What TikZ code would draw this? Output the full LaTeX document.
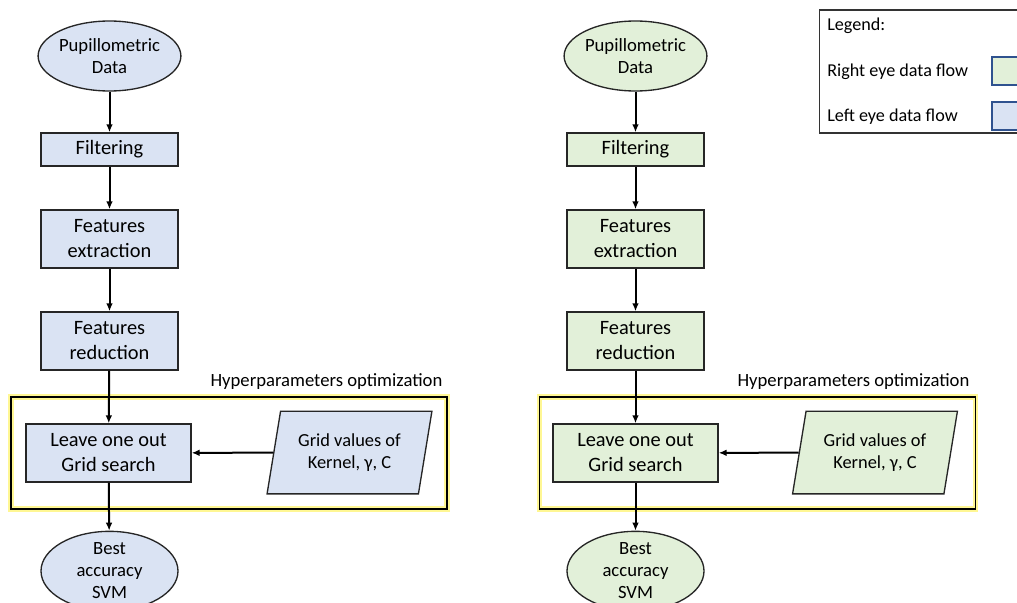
\documentclass[tikz,border=0pt]{standalone}
\usepackage{fontspec}
\setmainfont{Carlito}
\usepackage{tikz}
\usetikzlibrary{shapes.geometric}
\usetikzlibrary{arrows.meta}
\definecolor{ColL}{RGB}{218,227,243}
\definecolor{ColR}{RGB}{226,240,217}
\definecolor{ColY}{RGB}{255,240,60}
\definecolor{ColB}{RGB}{47,82,143}
\tikzstyle{Data}=[ellipse,draw=black!85,line width=1pt,inner sep=0pt,
minimum width=102.75pt,minimum height=52.5pt,align=center,
font=\fontsize{14}{16.5}\selectfont]
\tikzstyle{StepBox}=[rectangle,draw=black!85,line width=1pt,
minimum width=102.75pt,align=center,font=\fontsize{15.3}{18.75}\selectfont]
\tikzstyle{GridBox}=[trapezium,trapezium left angle=77,
trapezium right angle=103,trapezium stretches=true,draw=black!85,
line width=1pt,minimum width=125pt,minimum height=62pt,align=center,
font=\fontsize{13.8}{17}\selectfont]
\tikzstyle{HyperBox}=[rectangle,draw=black,line width=1pt,
preaction={draw=ColY!55,line width=4pt},minimum width=327pt,
minimum height=84pt]
\tikzstyle{HyperST}=[font=\fontsize{14}{16}\selectfont]
\tikzstyle{LegendST}=[font=\fontsize{13.6}{15}\selectfont,anchor=west,inner sep=0pt]
\tikzstyle{Edge}=[draw=black,line width=1.5pt,-{Latex[length=6pt,width=5pt]}]

\begin{document}
\begin{tikzpicture}[x=0.75pt,y=-0.75pt]
        \useasboundingbox[fill=white](0,0)rectangle(1017,603);
        % optimization frames
        \node[HyperBox](hl)at(229.0,453.0){};
        \node[HyperBox](hr)at(757.5,453.0){};
        \node[HyperST,anchor=east](hlt)at(447,382){Hyperparameters optimization};
        \node[HyperST,anchor=east](hrt)at(974,382){Hyperparameters optimization};
        % left eye
        \node[Data,fill=ColL](l1)at(109.5,56.0){Pupillometric\\Data};
        \node[StepBox,fill=ColL,minimum height=24.75pt](l2)at(109.5,149.5){Filtering};
        \node[StepBox,fill=ColL,minimum height=43.5pt](l3)at(109.5,239.0){Features\\extraction};
        \node[StepBox,fill=ColL,minimum height=43.5pt](l4)at(109.5,341.0){Features\\reduction};
        \node[StepBox,fill=ColL,minimum height=43.5pt,minimum width=123.75pt](l5)at(108.5,453.0){Leave one out\\Grid search};
        \node[GridBox,fill=ColL](l6)at(349.5,452.5){Grid values of\\Kernel, γ, C};
        \node[Data,fill=ColL](l7)at(109.5,571.0){Best\\accuracy\\SVM};
        \draw[Edge](l1)--(l2);
        \draw[Edge](l2)--(l3);
        \draw[Edge](l3)--(l4);
        \draw[Edge](l4)--(l5);
        \draw[Edge](l6)--(l5);
        \draw[Edge](l5)--(l7);
        % right eye
        \node[Data,fill=ColR](r1)at(635.5,56.0){Pupillometric\\Data};
        \node[StepBox,fill=ColR,minimum height=24.75pt](r2)at(635.5,149.5){Filtering};
        \node[StepBox,fill=ColR,minimum height=43.5pt](r3)at(635.5,239.0){Features\\extraction};
        \node[StepBox,fill=ColR,minimum height=43.5pt](r4)at(635.5,341.0){Features\\reduction};
        \node[StepBox,fill=ColR,minimum height=43.5pt,minimum width=123.75pt](r5)at(635.5,453.0){Leave one out\\Grid search};
        \node[GridBox,fill=ColR](r6)at(875.0,452.5){Grid values of\\Kernel, γ, C};
        \node[Data,fill=ColR](r7)at(635.5,571.0){Best\\accuracy\\SVM};
        \draw[Edge](r1)--(r2);
        \draw[Edge](r2)--(r3);
        \draw[Edge](r3)--(r4);
        \draw[Edge](r4)--(r5);
        \draw[Edge](r6)--(r5);
        \draw[Edge](r5)--(r7);
        % legend
        \node[draw=black!80,line width=1pt,minimum width=165pt,minimum height=92.25pt](lg)at(929.5,71.5){};
        \node[LegendST](lg0)at(827,26){Legend:};
        \node[LegendST](lg1)at(827,72){Right eye data flow};
        \node[LegendST](lg2)at(827,117){Left eye data flow};
        \node[draw=ColB,line width=1pt,fill=ColR,minimum width=21pt,minimum height=21pt](lgr)at(1006,71){};
        \node[draw=ColB,line width=1pt,fill=ColL,minimum width=21pt,minimum height=21pt](lgl)at(1006,116){};
    \end{tikzpicture}
\end{document}
